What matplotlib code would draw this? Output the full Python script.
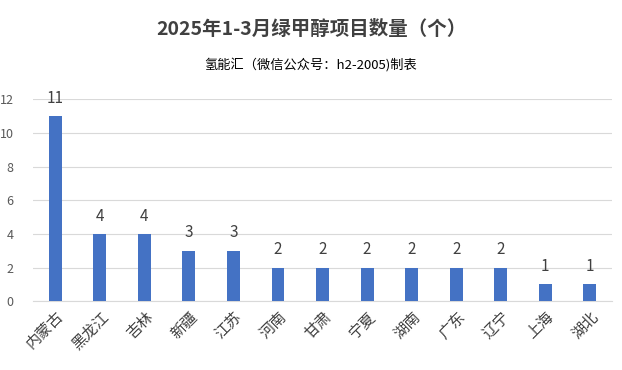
import matplotlib
matplotlib.use("Agg")
import matplotlib.pyplot as plt

plt.rcParams['font.family'] = ['Noto Sans CJK SC', 'DejaVu Sans']

# Données
provinces = ["内蒙古", "黑龙江", "吉林", "新疆", "江苏", "河南", "甘肃",
             "宁夏", "湖南", "广东", "辽宁", "上海", "湖北"]
nombres = [11, 4, 4, 3, 3, 2, 2, 2, 2, 2, 2, 1, 1]
yticks = [0, 2, 4, 6, 8, 10, 12]

fig = plt.figure(figsize=(6.22, 3.70), dpi=100)
ax = fig.add_axes([0.053, 0.186, 0.931, 0.546])

x = range(len(provinces))
bars = ax.bar(x, nombres, width=0.29, color="#4472C4", zorder=3)

for xi, v in zip(x, nombres):
    ax.text(xi, v + 0.55, str(v), ha="center", va="bottom",
            fontsize=11, color="#404040")

ax.set_xlim(-0.5, len(provinces) - 0.5)
ax.set_ylim(0, 12)
ax.set_yticks(yticks)
ax.set_yticklabels([str(t) for t in yticks], fontsize=9, color="#595959")
ax.set_xticks(list(x))
ax.set_xticklabels(provinces, rotation=45, ha="right", rotation_mode="anchor",
                   fontsize=11, color="#404040")
ax.tick_params(axis="both", length=0)
ax.tick_params(axis="y", pad=14)
ax.tick_params(axis="x", pad=5)
ax.grid(axis="y", color="#D9D9D9", linewidth=0.8, zorder=0)
for s in ["top", "right", "left"]:
    ax.spines[s].set_visible(False)
ax.spines["bottom"].set_color("#D9D9D9")

fig.text(0.5, 0.92, "2025年1-3月绿甲醇项目数量（个）", ha="center", va="center",
         fontsize=14, fontweight="bold", color="#404040")
fig.text(0.5, 0.825, "氢能汇（微信公众号：h2-2005)制表", ha="center", va="center",
         fontsize=9.5, color="#000000")

fig.savefig("out.png", dpi=100)
